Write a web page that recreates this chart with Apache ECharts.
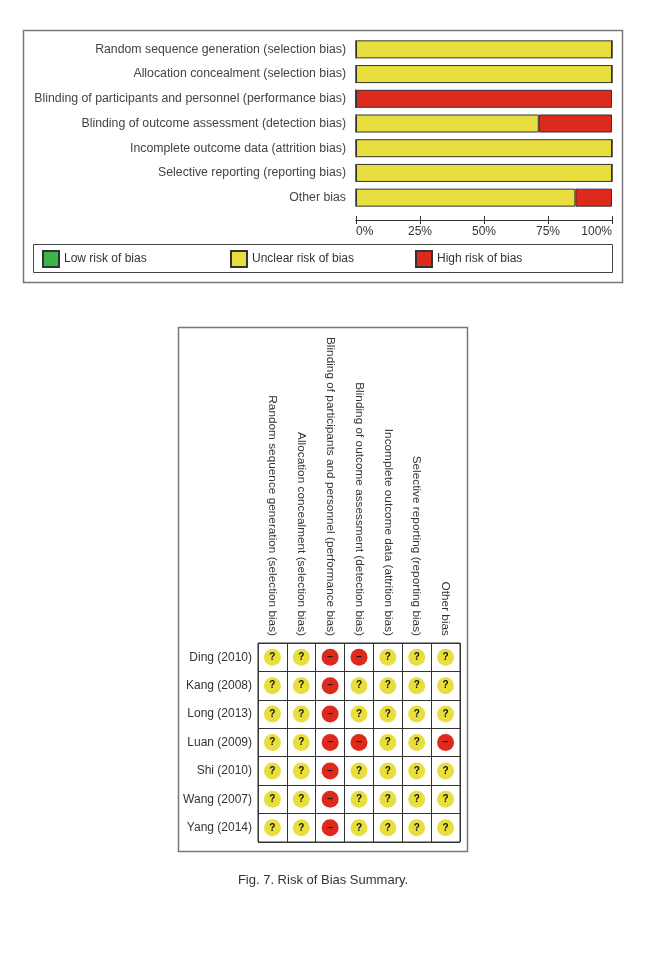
<!DOCTYPE html>
<html>
<head>
<meta charset="utf-8">
<script src="https://cdn.jsdelivr.net/npm/echarts@6/dist/echarts.min.js"></script>
<style>
  html, body { margin: 0; padding: 0; background: #fff; }
  #main { width: 647px; height: 966px; }
</style>
</head>
<body>
<div id="main"></div>
<script>
// risk of bias domains
var domains = [
  'Random sequence generation (selection bias)',
  'Allocation concealment (selection bias)',
  'Blinding of participants and personnel (performance bias)',
  'Blinding of outcome assessment (detection bias)',
  'Incomplete outcome data (attrition bias)',
  'Selective reporting (reporting bias)',
  'Other bias'
];
// percent of studies per judgement (graph)
var lowPct = [0, 0, 0, 0, 0, 0, 0];
var unclearPct = [100, 100, 0, 71.4, 100, 100, 85.7];
var highPct = [0, 0, 100, 28.6, 0, 0, 14.3];

// summary table
var studies = ['Ding (2010)', 'Kang (2008)', 'Long (2013)', 'Luan (2009)', 'Shi (2010)', 'Wang (2007)', 'Yang (2014)'];
// U = unclear, H = high
var judgements = [
  ['U', 'U', 'H', 'H', 'U', 'U', 'U'],
  ['U', 'U', 'H', 'U', 'U', 'U', 'U'],
  ['U', 'U', 'H', 'U', 'U', 'U', 'U'],
  ['U', 'U', 'H', 'H', 'U', 'U', 'H'],
  ['U', 'U', 'H', 'U', 'U', 'U', 'U'],
  ['U', 'U', 'H', 'U', 'U', 'U', 'U'],
  ['U', 'U', 'H', 'U', 'U', 'U', 'U']
];

var GREEN = '#3db54a';
var YELLOW = '#e8df3e';
var RED = '#dd2a1c';

var cells = [];
studies.forEach(function (s, r) {
  domains.forEach(function (d, c) {
    cells.push([c, r, judgements[r][c]]);
  });
});

var myChart = echarts.init(document.getElementById('main'));
var font = 'Liberation Sans, Arial, sans-serif';

var legendBase = {
  top: 250,
  padding: 0,
  icon: 'rect',
  itemWidth: 16,
  itemHeight: 16,
  itemGap: 0,
  textStyle: { fontFamily: font, fontSize: 12, color: '#333' },
  selectedMode: false
};

var option = {
  backgroundColor: '#fff',
  animation: false,
  textStyle: { fontFamily: font },
  grid: [
    { left: 356, right: 35, top: 37, height: 173 },
    { left: 258, right: 187, top: 643, height: 199, show: true, borderColor: '#333', borderWidth: 1 }
  ],
  legend: [
    Object.assign({ left: 42, data: ['Low risk of bias'] }, legendBase),
    Object.assign({ left: 230, data: ['Unclear risk of bias'] }, legendBase),
    Object.assign({ left: 415, data: ['High risk of bias'] }, legendBase)
  ],
  xAxis: [
    {
      type: 'value', gridIndex: 0, min: 0, max: 100, interval: 25, offset: 10,
      splitLine: { show: false },
      axisLine: { show: true, lineStyle: { color: '#333' } },
      axisTick: { show: true, length: 4, lineStyle: { color: '#333' } },
      axisLabel: {
        formatter: '{value}%', fontSize: 12, color: '#333', margin: 6, fontFamily: font,
        alignMinLabel: 'left', alignMaxLabel: 'right'
      }
    },
    {
      type: 'value', gridIndex: 0, min: 0, max: 100, interval: 25, offset: 10, position: 'bottom',
      splitLine: { show: false },
      axisLine: { show: true, lineStyle: { color: '#333' } },
      axisTick: { show: true, inside: true, length: 4, lineStyle: { color: '#333' } },
      axisLabel: { show: false }
    },
    {
      type: 'category', gridIndex: 1, position: 'top', data: domains,
      axisLine: { show: false }, axisTick: { show: false },
      splitLine: { show: true, interval: 0, lineStyle: { color: '#333', width: 1 } },
      axisLabel: { rotate: 90, interval: 0, fontSize: 11.8, color: '#333', margin: 7, fontFamily: font }
    }
  ],
  yAxis: [
    {
      type: 'category', gridIndex: 0, inverse: true, data: domains,
      axisLine: { show: false }, axisTick: { show: false },
      axisLabel: { fontSize: 12.3, color: '#444', margin: 10, fontFamily: font }
    },
    {
      type: 'category', gridIndex: 1, inverse: true, data: studies,
      axisLine: { show: false }, axisTick: { show: false },
      splitLine: { show: true, interval: 0, lineStyle: { color: '#333', width: 1 } },
      axisLabel: { fontSize: 12, color: '#333', margin: 6, fontFamily: font }
    }
  ],
  series: [
    {
      name: 'Low risk of bias', type: 'bar', stack: 'rob', xAxisIndex: 0, yAxisIndex: 0,
      barWidth: 18, data: lowPct,
      itemStyle: { color: GREEN, borderColor: '#333', borderWidth: 1 }
    },
    {
      name: 'Unclear risk of bias', type: 'bar', stack: 'rob', xAxisIndex: 0, yAxisIndex: 0,
      barWidth: 18, data: unclearPct,
      itemStyle: { color: YELLOW, borderColor: '#333', borderWidth: 1 }
    },
    {
      name: 'High risk of bias', type: 'bar', stack: 'rob', xAxisIndex: 0, yAxisIndex: 0,
      barWidth: 18, data: highPct,
      itemStyle: { color: RED, borderColor: '#333', borderWidth: 1 }
    },
    {
      type: 'scatter', xAxisIndex: 2, yAxisIndex: 1,
      symbol: 'circle', symbolSize: 17,
      data: cells,
      itemStyle: {
        opacity: 1,
        color: function (p) { return p.data[2] === 'H' ? RED : YELLOW; }
      },
      label: {
        show: true, position: 'inside', fontSize: 10, fontWeight: 'bold', color: '#111',
        fontFamily: font,
        formatter: function (p) { return p.data[2] === 'H' ? '\u2013' : '?'; }
      }
    }
  ],
  graphic: [
    { type: 'rect', shape: { x: 23.5, y: 30.5, width: 599, height: 252 }, style: { fill: 'none', stroke: '#777', lineWidth: 1.5 } },
    { type: 'rect', shape: { x: 33.5, y: 244.5, width: 579, height: 28 }, style: { fill: 'none', stroke: '#444', lineWidth: 1 } },
    { type: 'rect', shape: { x: 178.5, y: 327.5, width: 289, height: 524 }, style: { fill: 'none', stroke: '#777', lineWidth: 1.5 } },
    { type: 'text', x: 323, y: 880, style: { text: 'Fig. 7. Risk of Bias Summary.', fontSize: 13, fill: '#333', fontFamily: font, align: 'center', verticalAlign: 'middle' } }
  ]
};

myChart.setOption(option);
</script>
</body>
</html>
